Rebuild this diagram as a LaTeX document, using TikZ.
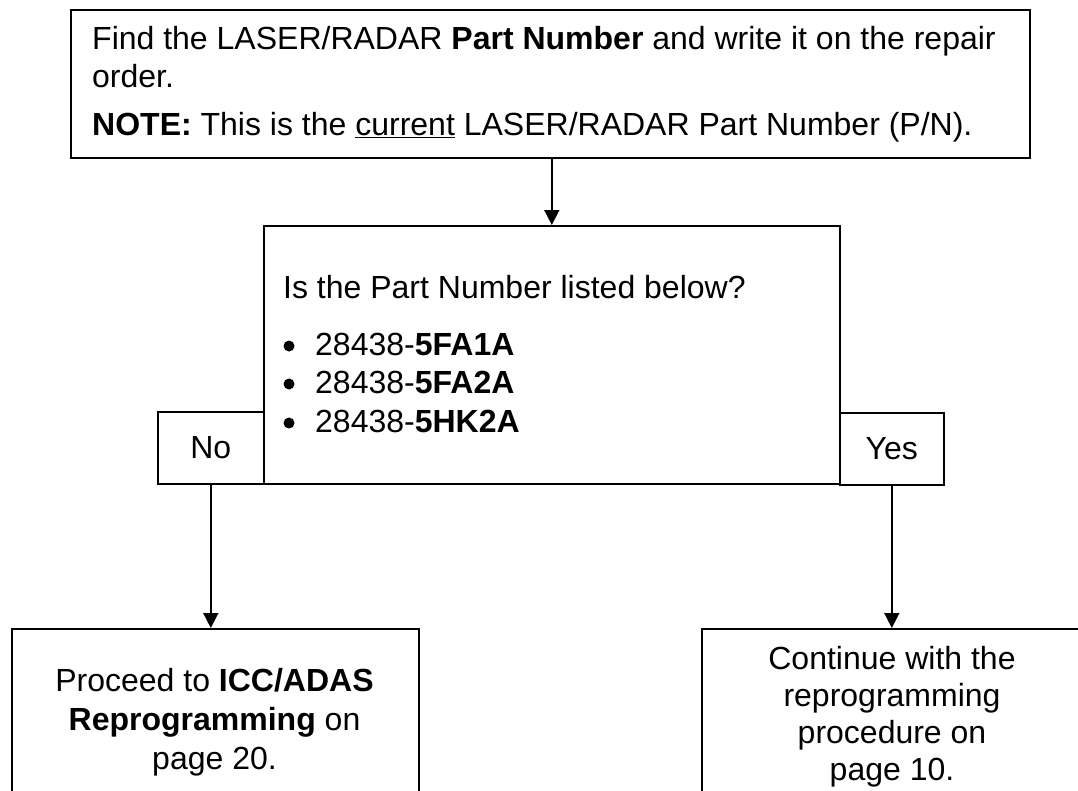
\documentclass[tikz,border=0pt]{standalone}
\usepackage{fontspec}
\setmainfont{Liberation Sans}
\usetikzlibrary{arrows.meta}
\tikzset{
  box/.style={draw=black, line width=1.6pt, rectangle, inner sep=0pt, anchor=north west},
  txt/.style={inner sep=0pt, anchor=base west},
  ctxt/.style={inner sep=0pt, anchor=base},
  bul/.style={circle, fill=black, inner sep=0pt, minimum size=11pt},
  arr/.style={line width=1.6pt, -{Triangle[length=15pt,width=15pt]}},
}
\begin{document}
\begin{tikzpicture}[x=1pt,y=-1pt,font=\fontsize{32}{38}\selectfont]
\useasboundingbox (0,0) rectangle (1078,790);
\clip (0,0) rectangle (1078,790);
\fill[white] (0,0) rectangle (1078,790);
% boxes
\node[box, minimum width=959pt, minimum height=148pt] (top) at (70,9) {};
\node[box, minimum width=576pt, minimum height=258pt] (mid) at (263,225) {};
\node[box, minimum width=106pt, minimum height=72pt] (no) at (157,411) {};
\node[box, minimum width=104pt, minimum height=72pt] (yes) at (839,412) {};
\node[box, minimum width=407pt, minimum height=220pt] (bl) at (11,628) {};
\node[box, minimum width=382pt, minimum height=220pt] (br) at (701,628) {};
% top text
\node[txt] (t1) at (92,49) {Find the LASER/RADAR \textbf{Part Number} and write it on the repair};
\node[txt] (t2) at (92,87) {order.};
\node[txt] (t3) at (92,135) {\textbf{NOTE:} This is the \underline{current} LASER/RADAR Part Number (P/N).};
% middle text
\node[txt] (m0) at (283,298) {Is the Part Number listed below?};
\node[bul] (b1) at (289,346) {};
\node[bul] (b2) at (289,384) {};
\node[bul] (b3) at (289,423) {};
\node[txt] (m1) at (315,355) {28438-\textbf{5FA1A}};
\node[txt] (m2) at (315,393) {28438-\textbf{5FA2A}};
\node[txt] (m3) at (315,432) {28438-\textbf{5HK2A}};
% decision labels
\node[inner sep=0pt] (nolbl) at (no.center) {No};
\node[inner sep=0pt] (yeslbl) at (yes.center) {Yes};
% bottom-left text
\node[ctxt] (l1) at (214.5,691) {Proceed to \textbf{ICC/ADAS}};
\node[ctxt] (l2) at (214.5,730) {\textbf{Reprogramming} on};
\node[ctxt] (l3) at (214.5,769) {page 20.};
% bottom-right text
\node[ctxt] (r1) at (892,669) {Continue with the};
\node[ctxt] (r2) at (892,706) {reprogramming};
\node[ctxt] (r3) at (892,743) {procedure on};
\node[ctxt] (r4) at (892,780) {page 10.};
% connectors
\draw[arr] (mid.north |- top.south) -- (mid.north);
\draw[arr] (no.south) -- (no.south |- bl.north);
\draw[arr] (yes.south) -- (yes.south |- br.north);
\end{tikzpicture}
\end{document}
